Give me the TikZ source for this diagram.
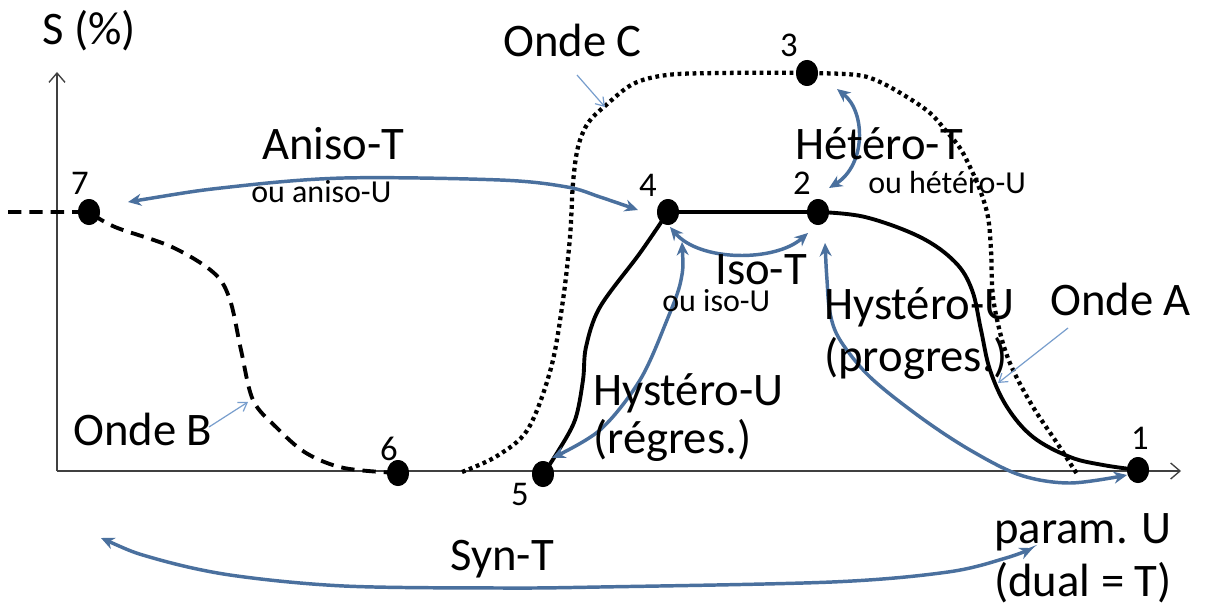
\documentclass[tikz,border=0pt]{standalone}
\usepackage{fontspec}
\setmainfont{Carlito}
\usetikzlibrary{arrows.meta,shapes.geometric}
\definecolor{arrowblue}{RGB}{74,112,158}
\definecolor{pointblue}{RGB}{120,158,205}
\begin{document}
\begin{tikzpicture}[x=0.75pt,y=-0.75pt,
  ptdot/.style={ellipse, fill=black, draw=none, inner sep=0pt, minimum width=16.5pt, minimum height=19.5pt},
  bigtxt/.style={inner sep=0pt, anchor=base west, font=\fontsize{35}{40}\selectfont},
  smalltxt/.style={inner sep=0pt, anchor=base west, font=\fontsize{24}{28}\selectfont},
  numtxt/.style={inner sep=0pt, anchor=center, font=\fontsize{26}{30}\selectfont},
  axisline/.style={line width=1pt, draw=black!75, -{Straight Barb[length=7pt,width=12pt,line width=1pt]}},
  wave/.style={line width=2.9pt, draw=black},
  dashwave/.style={wave, dash pattern=on 10pt off 6pt},
  dotwave/.style={wave, line width=3.2pt, dash pattern=on 2.8pt off 2.8pt},
  bluearrow/.style={line width=2.6pt, draw=arrowblue, {Stealth[length=10pt,width=9pt]}-{Stealth[length=10pt,width=9pt]}},
  pointer/.style={line width=0.9pt, draw=pointblue, -{Straight Barb[length=6pt,width=8pt,line width=0.9pt]}}
]
\fill[white] (0,0) rectangle (1206,606);
\useasboundingbox (0,0) rectangle (1206,606);

% axes
\coordinate (origin) at (57,471);
\coordinate (ytop) at (57,72);
\coordinate (xend) at (1181,471);
\draw[axisline] (origin) -- (ytop);
\draw[axisline] (origin) -- (xend);

% points
\node[ptdot] (p1) at (1138,470) {};
\node[ptdot] (p2) at (818,212) {};
\node[ptdot] (p3) at (807,73) {};
\node[ptdot] (p4) at (668,212) {};
\node[ptdot] (p5) at (543,474) {};
\node[ptdot] (p6) at (398,473) {};
\node[ptdot] (p7) at (89,212) {};

% Onde B (dashed)
\coordinate (bstart) at (8,212);
\draw[dashwave] (bstart) -- plot[smooth, tension=0.55] coordinates {(p7.center) (115,227) (172,247) (214,273) (230,300) (241,350) (253,400) (276,427) (306,453) (344,468) (p6.center)};

% Onde C (dotted)
\coordinate (cstart) at (462,472);
\coordinate (cend) at (1077,474);
\draw[dotwave] plot[smooth, tension=0.55] coordinates {(cstart) (497,456) (528,429) (551,368) (563,300) (570,237) (573,183) (578,147) (588,123) (605,106) (633,84) (667,75) (720,73) (p3.center) (857,75) (880,82) (907,97) (930,113) (947,132) (960,148) (970,167) (980,190) (988,217) (991,250) (993,297) (1002,340) (1013,370) (1033,407) (1057,443) (cend)};

% Onde A (solid)
\draw[wave] plot[smooth, tension=0.55] coordinates {(p5.center) (557,453) (575,420) (583,380) (586,347) (600,307) (640,253) (p4.center)} -- (p2.center);
\draw[wave] plot[smooth, tension=0.6] coordinates {(p2.center) (865,217) (920,237) (955,262) (972,290) (981,330) (990,370) (1007,407) (1033,437) (1070,457) (1103,465) (p1.center)};

% redraw points on top
\foreach \p in {p1,p2,p3,p4,p5,p6,p7} \fill (\p) ellipse [x radius=11, y radius=13];

% blue arrows
\coordinate (aniL) at (128,202);
\coordinate (aniR) at (638,210);
\draw[bluearrow] plot[smooth, tension=0.55] coordinates {(aniL) (230,187) (344,178) (500,180) (567,187) (600,197) (aniR)};

\coordinate (hetT) at (837,89);
\coordinate (hetB) at (829,188);
\draw[bluearrow] (hetT) .. controls (866,112) and (866,165) .. (hetB);

\coordinate (isoL) at (670,227);
\coordinate (isoR) at (808,233);
\draw[bluearrow] (isoL) .. controls (700,262) and (775,262) .. (isoR);

\coordinate (regT) at (682,242);
\coordinate (regB) at (552,458);
\draw[bluearrow] plot[smooth, tension=0.55] coordinates {(regT) (681,280) (667,320) (640,380) (600,430) (regB)};

\coordinate (proT) at (825,243);
\coordinate (proB) at (1127,475);
\draw[bluearrow] plot[smooth, tension=0.55] coordinates {(proT) (827,280) (830,313) (840,340) (870,377) (920,417) (970,450) (1020,475) (1070,483) (proB)};

\coordinate (synL) at (101,538);
\coordinate (synR) at (1033,548);
\draw[bluearrow] plot[smooth, tension=0.55] coordinates {(synL) (153,558) (230,575) (344,586) (500,588) (600,587) (832,582) (948,572) (1006,558) (synR)};

% pointers
\coordinate (ocA) at (577,75);
\coordinate (ocB) at (605,107);
\draw[pointer] (ocA) -- (ocB);
\coordinate (obA) at (209,427);
\coordinate (obB) at (248,402);
\draw[pointer] (obA) -- (obB);
\coordinate (oaA) at (1068,328);
\coordinate (oaB) at (998,383);
\draw[pointer] (oaA) -- (oaB);

% texts
\node[bigtxt] (tS) at (42,45) {S (\%)};
\node[bigtxt] (tOC) at (503,57) {Onde C};
\node[bigtxt] (tAni) at (262,160) {Aniso-T};
\node[smalltxt] (tAniU) at (251,202) {ou aniso-U};
\node[bigtxt] (tHet) at (795,160) {Hétéro-T};
\node[smalltxt] (tHetU) at (868,194) {ou hétéro-U};
\node[bigtxt] (tIso) at (715,284) {Iso-T};
\node[smalltxt] (tIsoU) at (662,311) {ou iso-U};
\node[bigtxt] (tHysR) at (593,405) {Hystéro-U};
\node[bigtxt] (tReg) at (593,453) {(régres.)};
\node[bigtxt] (tHysP) at (824,319) {Hystéro-U};
\node[bigtxt] (tPro) at (824,371) {(progres.)};
\node[bigtxt] (tOA) at (1050,315) {Onde A};
\node[bigtxt] (tOB) at (73,445) {Onde B};
\node[bigtxt] (tSyn) at (450,570) {Syn-T};
\node[bigtxt] (tPar) at (994,543) {param. U};
\node[bigtxt] (tDual) at (994,596) {(dual = T)};

\node[numtxt] (n1) at (1140,438) {1};
\node[numtxt] (n2) at (802,183) {2};
\node[numtxt] (n3) at (789,45) {3};
\node[numtxt] (n4) at (648,185) {4};
\node[numtxt] (n5) at (520,494) {5};
\node[numtxt] (n6) at (389,449) {6};
\node[numtxt] (n7) at (80,183) {7};
\end{tikzpicture}
\end{document}
